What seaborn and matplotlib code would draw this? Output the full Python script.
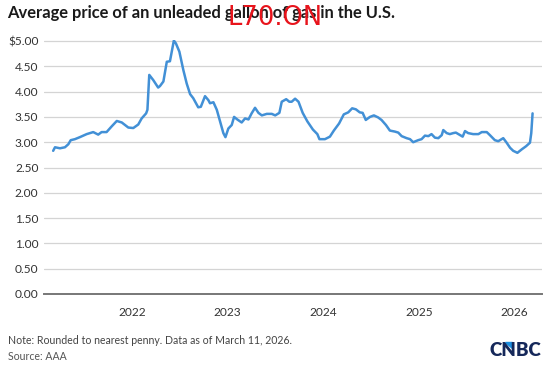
import pandas as pd
import matplotlib.pyplot as plt
import matplotlib.dates as mdates
from matplotlib.patches import Polygon
import seaborn as sns

# Weekly-ish average US gas price
dates = [
    "2021-03-06", "2021-03-13", "2021-04-01", "2021-04-20", "2021-05-03", "2021-05-12",
    "2021-05-28", "2021-06-16", "2021-07-12", "2021-08-06", "2021-08-25", "2021-09-07",
    "2021-09-26", "2021-10-15", "2021-11-04", "2021-11-23", "2021-12-18", "2022-01-06",
    "2022-01-25", "2022-02-07", "2022-02-24", "2022-03-01", "2022-03-08", "2022-03-23",
    "2022-04-11", "2022-04-18", "2022-05-01", "2022-05-14", "2022-05-26", "2022-06-10",
    "2022-06-18", "2022-07-01", "2022-07-16", "2022-07-29", "2022-08-11", "2022-08-23",
    "2022-09-11", "2022-09-21", "2022-10-07", "2022-10-20", "2022-10-26", "2022-11-08",
    "2022-11-21", "2022-12-03", "2022-12-16", "2022-12-24", "2023-01-04", "2023-01-17",
    "2023-01-26", "2023-02-07", "2023-02-24", "2023-03-09", "2023-03-22", "2023-04-03",
    "2023-04-16", "2023-04-29", "2023-05-12", "2023-05-31", "2023-06-19", "2023-07-02",
    "2023-07-18", "2023-07-27", "2023-08-13", "2023-08-25", "2023-09-03", "2023-09-16",
    "2023-09-29", "2023-10-15", "2023-11-02", "2023-11-23", "2023-12-10", "2023-12-18",
    "2024-01-08", "2024-01-27", "2024-02-11", "2024-03-02", "2024-03-20", "2024-04-06",
    "2024-04-21", "2024-05-05", "2024-05-20", "2024-05-31", "2024-06-12", "2024-06-28",
    "2024-07-13", "2024-07-29", "2024-08-11", "2024-08-28", "2024-09-12", "2024-10-01",
    "2024-10-14", "2024-10-27", "2024-11-15", "2024-11-28", "2024-12-10", "2024-12-29",
    "2025-01-11", "2025-01-24", "2025-02-06", "2025-02-18", "2025-03-03", "2025-03-16",
    "2025-03-29", "2025-04-04", "2025-04-17", "2025-04-29", "2025-05-12", "2025-05-22",
    "2025-06-07", "2025-06-17", "2025-06-26", "2025-07-08", "2025-07-27", "2025-08-16",
    "2025-08-29", "2025-09-17", "2025-09-29", "2025-10-18", "2025-10-31", "2025-11-19",
    "2025-12-02", "2025-12-15", "2025-12-27", "2026-01-12", "2026-01-29", "2026-02-14",
    "2026-03-01", "2026-03-06", "2026-03-11",
]
prices = [
    2.83, 2.90, 2.88, 2.90, 2.96, 3.04,
    3.06, 3.10, 3.16, 3.20, 3.15, 3.20,
    3.20, 3.31, 3.42, 3.39, 3.29, 3.28,
    3.35, 3.47, 3.57, 3.64, 4.33, 4.23,
    4.08, 4.11, 4.20, 4.59, 4.60, 5.01,
    4.95, 4.79, 4.43, 4.16, 3.95, 3.87,
    3.69, 3.70, 3.91, 3.83, 3.77, 3.79,
    3.64, 3.42, 3.18, 3.10, 3.27, 3.34,
    3.50, 3.45, 3.39, 3.47, 3.45, 3.57,
    3.68, 3.58, 3.53, 3.56, 3.56, 3.53,
    3.58, 3.80, 3.85, 3.80, 3.80, 3.86,
    3.80, 3.58, 3.41, 3.25, 3.16, 3.06,
    3.06, 3.11, 3.23, 3.37, 3.55, 3.59,
    3.67, 3.65, 3.59, 3.58, 3.44, 3.50,
    3.53, 3.49, 3.44, 3.34, 3.23, 3.21,
    3.19, 3.12, 3.08, 3.06, 3.00, 3.04,
    3.06, 3.13, 3.12, 3.16, 3.09, 3.08,
    3.14, 3.24, 3.18, 3.16, 3.18, 3.19,
    3.14, 3.11, 3.22, 3.18, 3.16, 3.16,
    3.20, 3.20, 3.14, 3.04, 3.02, 3.08,
    2.99, 2.89, 2.83, 2.79, 2.86, 2.92,
    2.99, 3.18, 3.57,
]
y_ticks = [0, 0.5, 1, 1.5, 2, 2.5, 3, 3.5, 4, 4.5, 5]
year_ticks = ["2022", "2023", "2024", "2025", "2026"]

df = pd.DataFrame({"date": pd.to_datetime(dates), "price": prices})

sns.set_style("white")
plt.rcParams["font.family"] = ["Lato", "DejaVu Sans"]

fig = plt.figure(figsize=(5.5, 3.66), dpi=100)
ax = fig.add_axes([44 / 550, 1 - 294 / 366, 498 / 550, 254 / 366])

sns.lineplot(data=df, x="date", y="price", ax=ax, color="#4290d6", linewidth=1.8)

ax.set_ylim(0, 5.02)
ax.set_xlim(pd.Timestamp("2021-01-30"), pd.Timestamp("2026-04-16"))
ax.set_yticks(y_ticks)
ax.set_yticklabels([("$%.2f" if v == 5 else "%.2f") % v for v in y_ticks])
ax.set_xticks(pd.to_datetime([y + "-01-01" for y in year_ticks]))
ax.xaxis.set_major_formatter(mdates.DateFormatter("%Y"))
ax.set_xlabel("")
ax.set_ylabel("")

ax.grid(axis="y", color="#d4d4d4", linewidth=0.9)
ax.grid(axis="x", visible=False)
for s in ["top", "right", "left"]:
    ax.spines[s].set_visible(False)
ax.spines["bottom"].set_color("#777777")
ax.spines["bottom"].set_linewidth(1.4)
ax.tick_params(axis="y", length=0, pad=4, labelsize=8.6, labelcolor="#333333")
ax.tick_params(axis="x", length=4, width=1, color="#333333", pad=5,
               labelsize=8.6, labelcolor="#333333")

fig.text(7 / 550, 1 - 13 / 366, "Average price of an unleaded gallon of gas in the U.S.",
         fontsize=11.9, fontweight="bold", color="#1a1a1a", va="center", ha="left", zorder=3)
fig.text(228 / 550, 1 - 18 / 366, "L70.ON", fontsize=18.5, color="#e8141c",
         family="DejaVu Sans", va="center", ha="left", zorder=10)
fig.text(8 / 550, 1 - 341 / 366, "Note: Rounded to nearest penny. Data as of March 11, 2026.",
         fontsize=7.6, color="#444444", va="center", ha="left")
fig.text(8 / 550, 1 - 357 / 366, "Source: AAA",
         fontsize=7.6, color="#555555", va="center", ha="left")
fig.text(541 / 550, 1 - 350 / 366, "CNBC", fontsize=13.5, fontweight="heavy",
         color="#15285a", va="center", ha="right")
# small blue wedge of the logo
fig.patches.append(Polygon([[505 / 550, 1 - 342 / 366], [512 / 550, 1 - 342 / 366],
                            [512 / 550, 1 - 348 / 366]], closed=True,
                           transform=fig.transFigure, color="#1b8fe0"))

fig.savefig("out.png", dpi=100)
